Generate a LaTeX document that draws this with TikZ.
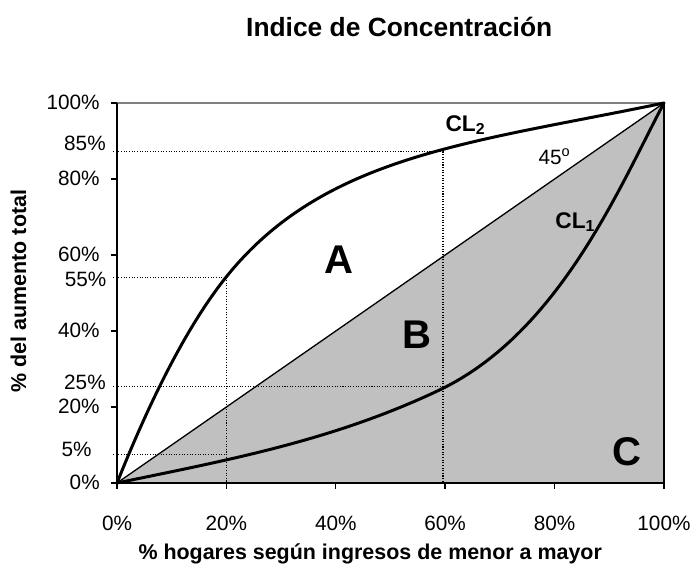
\documentclass[tikz,border=0pt]{standalone}
\usepackage{fontspec}
\setmainfont{Liberation Sans}
\definecolor{areagray}{RGB}{192,192,192}
\definecolor{bordergray}{RGB}{128,128,128}
\tikzset{
	curve/.style={line width=1.7pt, line join=round, line cap=round},
	guide/.style={line width=0.6pt, dash pattern=on 0.6pt off 0.9pt},
	axis/.style={line width=0.8pt},
	lbl/.style={inner sep=0pt}
}
\begin{document}
\begin{tikzpicture}[x=0.1094cm,y=0.076cm]
			\newcommand{\myfontticks}[1]{
				\fontsize{11.8}{14}\selectfont{#1}
			}\newcommand{\myfontaxis}[1]{
				\fontsize{12.2}{14}\selectfont\bfseries{#1}
			}\newcommand{\myfonttitle}[1]{
				\fontsize{15}{17}\selectfont\bfseries{#1}
			}\newcommand{\myfontareas}[1]{
				\fontsize{22.8}{26}\selectfont\bfseries{#1}
			}\newcommand{\myfontcurves}[1]{
				\fontsize{12.9}{15}\selectfont\bfseries{#1}
			}%Size of the whole picture
			\useasboundingbox (-21.39,-21.84) rectangle (105.67,127.11);
			%Corners of the plot area
			\coordinate (origin) at (0,0);
			\coordinate (tip) at (100,100);
			\coordinate (corner) at (100,0);
			\coordinate (topleft) at (0,100);
			%Shaded triangle below the 45 degree line
			\fill [areagray] (origin) -- (tip) -- (corner) -- cycle;
			%Upper border of the plot
			\draw [bordergray, line width=0.7pt] (topleft) -- (tip);
			%Dotted guide lines
			\coordinate (g85l) at (-0.7,87.2);
			\coordinate (g85r) at (59.6,87.2);
			\coordinate (g60b) at (59.6,0);
			\coordinate (g55l) at (-0.7,54.1);
			\coordinate (g55r) at (20,54.1);
			\coordinate (g20b) at (20,0);
			\coordinate (g25l) at (-0.7,25.3);
			\coordinate (g25r) at (59.6,25.3);
			\coordinate (g5l) at (-0.7,7.4);
			\coordinate (g5r) at (20,7.4);
			\draw [guide] (g85l) -- (g85r) -- (g60b);
			\draw [guide] (g55l) -- (g55r) -- (g20b);
			\draw [guide] (g25l) -- (g25r);
			\draw [guide] (g5l) -- (g5r);
			%The 45 degree line
			\draw [line width=0.75pt] (origin) -- (tip);
			%Curve CL2
			\coordinate (cl2mid) at (19.9,54.1);
			\draw [curve] (origin) .. controls (6.6,23.8) and (13.3,42.2) .. (cl2mid)
				.. controls (37.9,86.5) and (65,89.5) .. (tip);
			%Curve CL1
			\coordinate (cl1mid) at (59,24.5);
			\draw [curve] (origin) .. controls (19.7,5.9) and (39.3,11) .. (cl1mid)
				.. controls (81,39.7) and (92,78.4) .. (tip);
			%Axes and ticks
			\draw [axis] (topleft) -- (origin) -- (corner);
			\draw [line width=1.1pt] (corner) -- (tip);
			\foreach \v in {0,20,...,100} {
				\draw [axis] (0,\v) -- ++(-1.1,0);
				\draw [axis] (\v,0) -- ++(0,-1.6);
				\node [lbl, anchor=base] (xt\v) at (\v,-12.6) {\myfontticks{\v\%}};
				\node [lbl, anchor=base east] (yt\v) at (-3.1,{\v-1.84}) {\myfontticks{\v\%}};
			}
			%Values read on the curves
			\node [lbl, anchor=base east] (yt85) at (-2.0,87.6) {\myfontticks{85\%}};
			\node [lbl, anchor=base east] (yt55) at (-1.9,51.7) {\myfontticks{55\%}};
			\node [lbl, anchor=base east] (yt25) at (-2.0,24.5) {\myfontticks{25\%}};
			\node [lbl, anchor=base east] (yt5) at (-4.6,6.9) {\myfontticks{5\%}};
			%Areas
			\node [lbl, anchor=base] (areaA) at (40.5,55.0) {\myfontareas{A}};
			\node [lbl, anchor=base] (areaB) at (54.8,35.5) {\myfontareas{B}};
			\node [lbl, anchor=base] (areaC) at (93.2,4.7) {\myfontareas{C}};
			%Names of the curves
			\node [lbl, anchor=base west] (cl2) at (60.0,92.6) {\myfontcurves{CL\textsubscript{2}}};
			\node [lbl, anchor=base west] (cl1) at (80.1,67.1) {\myfontcurves{CL\textsubscript{1}}};
			\node [lbl, anchor=base west] (deg) at (77.0,83.9) {\myfontticks{45\textsuperscript{o}}};
			%Title and axis labels
			\node [lbl, anchor=base] (title) at (51.6,117.6) {\myfonttitle{Indice de Concentración}};
			\node [lbl, anchor=base] (xlabel) at (46.3,-20.2) {\myfontaxis{\% hogares según ingresos de menor a mayor}};
			\node [lbl, anchor=base, rotate=90] (ylabel) at (-16.6,50.5) {\myfontaxis{\% del aumento total}};
\end{tikzpicture}
\end{document}
